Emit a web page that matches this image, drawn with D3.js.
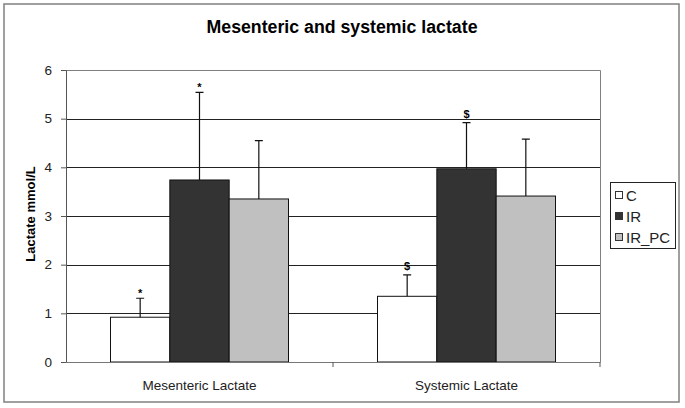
<html>
  <head>
    <script src="https://d3js.org/d3.v7.min.js"></script>
    <style>
      body { margin: 0; background: white; }
      text { font-family: Arial, "Liberation Sans", sans-serif; }
    </style>
  </head>
  <body>
    <script>
      // data
      var categories = ["Mesenteric Lactate", "Systemic Lactate"];
      var seriesNames = ["C", "IR", "IR_PC"];
      var seriesColors = ["#ffffff", "#333333", "#c0c0c0"];
      var meanC    = [0.92, 1.35];
      var meanIR   = [3.74, 3.97];
      var meanIRPC = [3.35, 3.41];
      var sdC    = [0.39, 0.44];
      var sdIR   = [1.80, 0.95];
      var sdIRPC = [1.20, 1.17];
      var marksC    = ["*", "$"];
      var marksIR   = ["*", "$"];
      var marksIRPC = ["", ""];
      var yTicks = [0, 1, 2, 3, 4, 5, 6];

      var means = [meanC, meanIR, meanIRPC];
      var sds = [sdC, sdIR, sdIRPC];
      var marks = [marksC, marksIR, marksIRPC];

      var width = 685, height = 408;
      // plot area edges (note: "top" is reserved on window)
      var pLeft = 66, pRight = 600, pTop = 70, pBottom = 362;

      var svg = d3.select("body").append("svg")
                  .attr("width", width).attr("height", height);

      // outer chart border
      svg.append("rect")
         .attr("x", 4).attr("y", 4).attr("width", 675).attr("height", 398)
         .attr("fill", "white").attr("stroke", "#808080").attr("stroke-width", 1.5);

      svg.append("text")
         .attr("x", 342).attr("y", 33)
         .attr("text-anchor", "middle")
         .attr("font-size", "17.5px").attr("font-weight", "bold")
         .attr("textLength", 271).attr("lengthAdjust", "spacingAndGlyphs")
         .text("Mesenteric and systemic lactate");

      var x = d3.scaleBand().domain(categories).range([pLeft, pRight]);
      // excel style: gap width 150% -> 3 bars + 1.5 bar widths of gap
      var barW = x.bandwidth() / 4.5;
      var y = d3.scaleLinear().domain([0, 6]).range([pBottom, pTop]);

      // plot area border (top and right)
      svg.append("path")
         .attr("d", "M" + pLeft + "," + (pTop + 0.5) + "H" + (pRight + 0.5) + "V" + pBottom)
         .attr("fill", "none").attr("stroke", "#808080");

      // gridlines
      svg.selectAll(".grid")
         .data(yTicks.filter(function(d) { return d > 0 && d < 6; }))
         .enter().append("line")
         .attr("x1", pLeft).attr("x2", pRight)
         .attr("y1", function(d) { return Math.round(y(d)) + 0.5; })
         .attr("y2", function(d) { return Math.round(y(d)) + 0.5; })
         .attr("stroke", "#222");

      // bars, one group per series
      seriesNames.forEach(function(name, s) {
        var g = svg.append("g");
        var cx = function(d, i) {
          return x(categories[i]) + 0.75 * barW + s * barW;
        };
        g.selectAll("rect")
         .data(means[s]).enter().append("rect")
         .attr("x", cx)
         .attr("y", function(d) { return y(d); })
         .attr("width", barW)
         .attr("height", function(d) { return y(0) - y(d); })
         .attr("fill", seriesColors[s])
         .attr("stroke", "#111").attr("stroke-width", 1);

        // error bars (upper only)
        g.selectAll(".err")
         .data(means[s]).enter().append("path")
         .attr("d", function(d, i) {
           var mx = cx(d, i) + barW / 2;
           var y1 = y(d), y2 = y(d + sds[s][i]);
           return "M" + mx + "," + y1 + "V" + y2 + "M" + (mx - 4) + "," + y2 + "H" + (mx + 4);
         })
         .attr("fill", "none").attr("stroke", "#111").attr("stroke-width", 1.2);

        // significance marks; "$" sits lower in its glyph box than "*"
        g.selectAll(".mark")
         .data(means[s]).enter().append("text")
         .attr("x", function(d, i) { return cx(d, i) + barW / 2; })
         .attr("y", function(d, i) {
           return y(d + sds[s][i]) - (marks[s][i] == "$" ? 5 : 1);
         })
         .attr("text-anchor", "middle")
         .attr("font-size", "11px").attr("font-weight", "bold")
         .text(function(d, i) { return marks[s][i]; });
      });

      // y axis
      var yAxis = d3.axisLeft(y).tickValues(yTicks).tickFormat(d3.format("d"))
                    .tickSize(5).tickPadding(9);
      var ya = svg.append("g").attr("transform", "translate(" + pLeft + ",0)").call(yAxis);
      ya.select(".domain").attr("stroke", "#555");
      ya.selectAll(".tick line").attr("stroke", "#555");
      ya.selectAll("text").attr("font-size", "13.5px").attr("fill", "#222")
        .attr("font-family", "Arial, 'Liberation Sans', sans-serif");

      // x axis
      var xAxis = d3.axisBottom(x).tickSize(0).tickPadding(18);
      var xa = svg.append("g").attr("transform", "translate(0," + pBottom + ")").call(xAxis);
      xa.select(".domain").attr("stroke", "#777");
      xa.selectAll("text").attr("font-size", "13.5px").attr("fill", "#222")
        .attr("font-family", "Arial, 'Liberation Sans', sans-serif");
      // tick marks between categories
      xa.selectAll(".sep")
        .data([x.range()[0] + x.step(), x.range()[1]])
        .enter().append("line")
        .attr("x1", function(d) { return d; }).attr("x2", function(d) { return d; })
        .attr("y1", 0).attr("y2", 5)
        .attr("stroke", "#555");

      svg.append("text")
         .attr("transform", "translate(35,214) rotate(-90)")
         .attr("text-anchor", "middle")
         .attr("font-size", "13px").attr("font-weight", "bold")
         .text("Lactate mmol/L");

      // legend
      var legend = svg.append("g");
      legend.append("rect")
            .attr("x", 610.5).attr("y", 182.5).attr("width", 65).attr("height", 66)
            .attr("fill", "white").attr("stroke", "#222");
      var items = legend.selectAll(".item")
                        .data(seriesNames).enter().append("g")
                        .attr("transform", function(d, i) { return "translate(615," + (195 + i * 21) + ")"; });
      items.append("rect")
           .attr("x", 0.5).attr("y", -3.5).attr("width", 7).attr("height", 7)
           .attr("fill", function(d, i) { return seriesColors[i]; })
           .attr("stroke", "#333");
      items.append("text")
           .attr("x", 11).attr("y", 5.5)
           .attr("font-size", "15px").attr("fill", "#222")
           .text(function(d) { return d; });
    </script>
  </body>
</html>
